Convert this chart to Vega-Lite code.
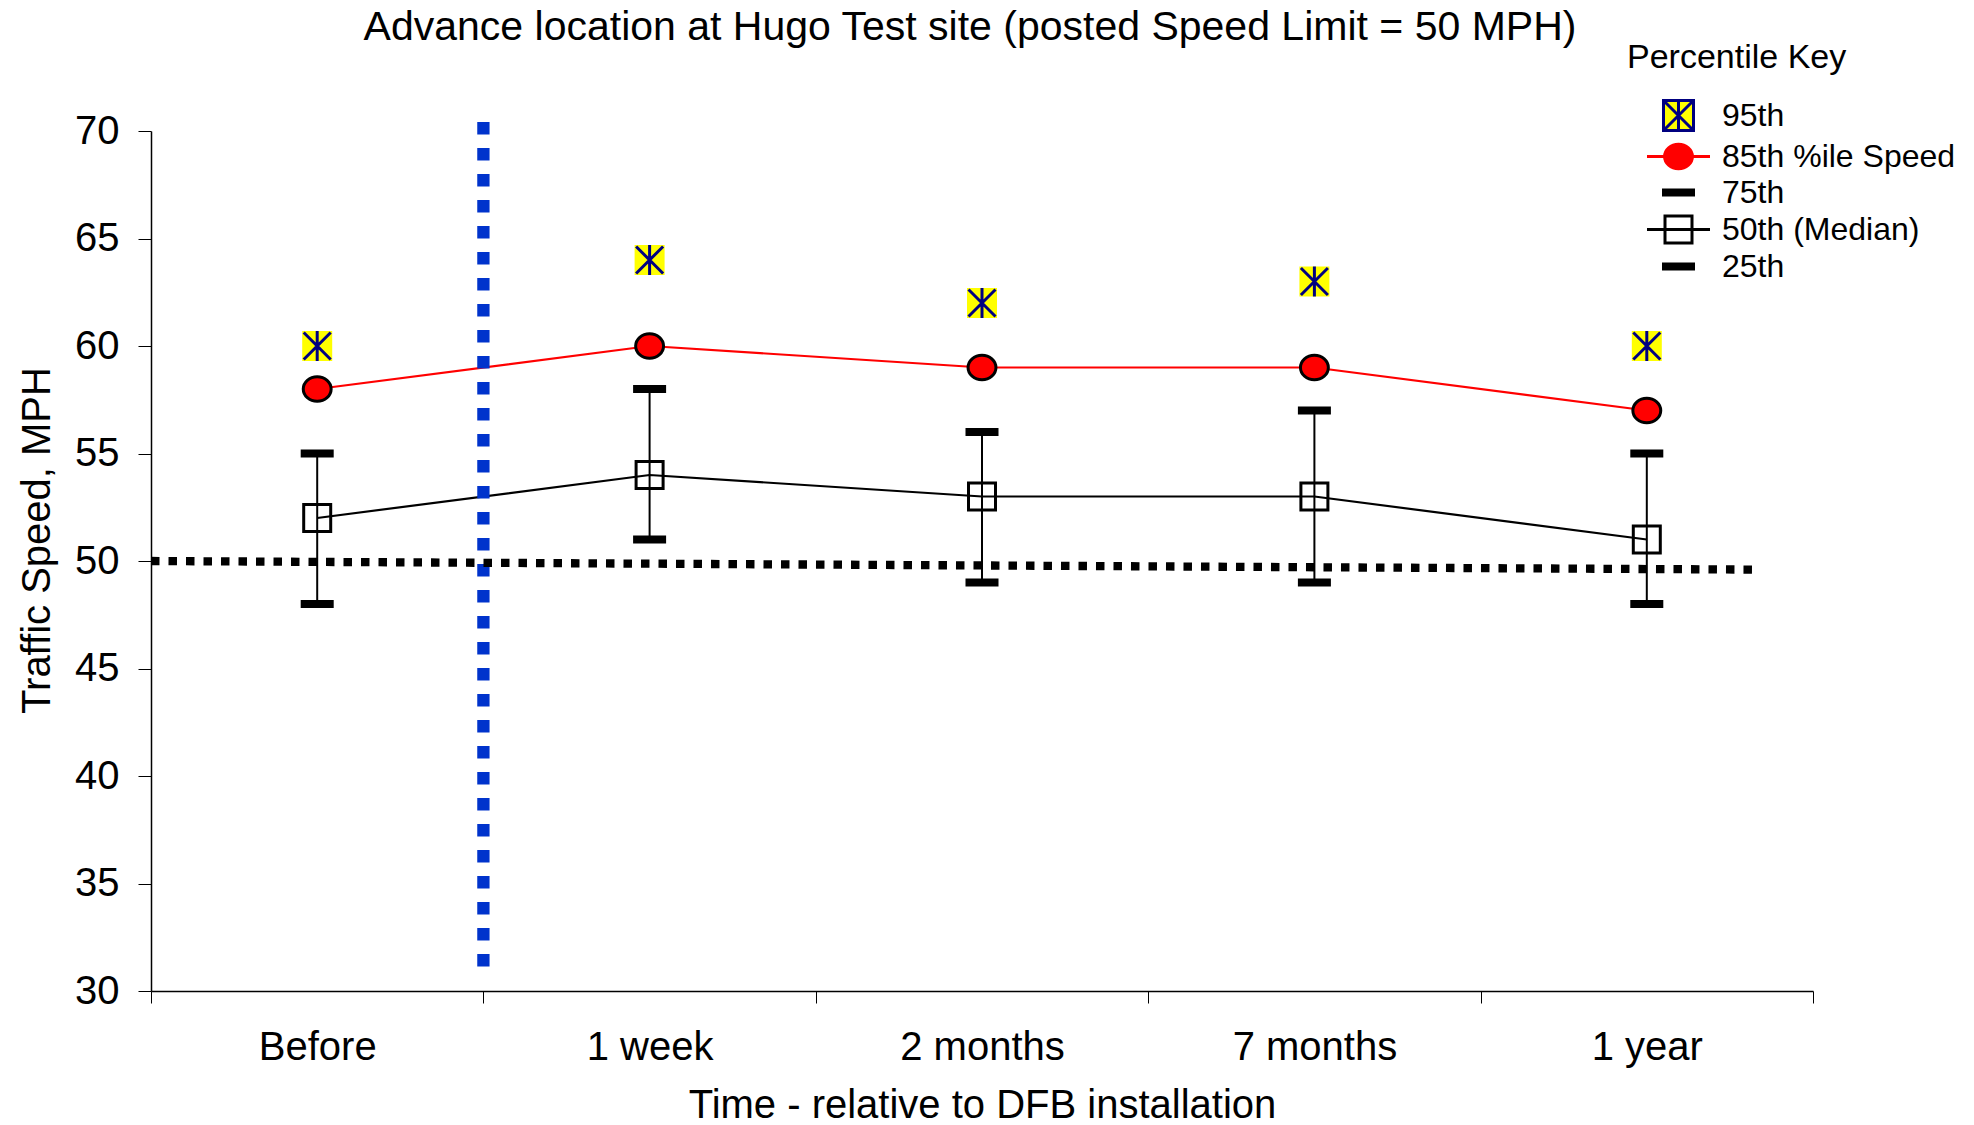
{
  "$schema": "https://vega.github.io/schema/vega-lite/v6.json",
  "width": 1662,
  "height": 860,
  "autosize": {"type": "none"},
  "padding": {"left": 151, "top": 131, "right": 161, "bottom": 134},
  "background": "white",
  "config": {
    "view": {"stroke": null},
    "font": "Liberation Sans",
    "axis": {"labelFont": "Liberation Sans", "titleFont": "Liberation Sans", "labelColor": "black", "titleColor": "black", "domainColor": "black", "tickColor": "black", "titleFontWeight": "normal", "grid": false}
  },
  "title": {
    "text": "Advance location at Hugo Test site (posted Speed Limit = 50 MPH)",
    "fontSize": 41, "fontWeight": "normal", "font": "Liberation Sans", "color": "black",
    "anchor": "middle", "frame": "group", "offset": -8, "dx": -12
  },
  "layer": [
    {
      "data": {"values": [
        {"time": "Before", "95th": 60, "85th %ile Speed": 58, "75th": 55, "50th (Median)": 52, "25th": 48},
        {"time": "1 week", "95th": 64, "85th %ile Speed": 60, "75th": 58, "50th (Median)": 54, "25th": 51},
        {"time": "2 months", "95th": 62, "85th %ile Speed": 59, "75th": 56, "50th (Median)": 53, "25th": 49},
        {"time": "7 months", "95th": 63, "85th %ile Speed": 59, "75th": 57, "50th (Median)": 53, "25th": 49},
        {"time": "1 year", "95th": 60, "85th %ile Speed": 57, "75th": 55, "50th (Median)": 51, "25th": 48}
      ]},
      "encoding": {
        "x": {"field": "time", "type": "nominal", "sort": ["Before", "1 week", "2 months", "7 months", "1 year"],
              "scale": {"type": "band", "paddingInner": 0, "paddingOuter": 0},
              "title": "Time - relative to DFB installation",
              "axis": {"tickBand": "extent", "labelAngle": 0, "labelFontSize": 40, "labelPadding": 24, "tickSize": 12, "tickWidth": 1, "domainWidth": 1.5, "titleFontSize": 40, "titlePadding": 18}}
      },
      "layer": [
        {
          "mark": {"type": "rule", "color": "black", "strokeWidth": 2},
          "encoding": {
            "y": {"field": "25th", "type": "quantitative", "scale": {"domain": [30, 70], "nice": false, "zero": false},
                  "title": "Traffic Speed, MPH",
                  "axis": {"values": [30, 35, 40, 45, 50, 55, 60, 65, 70], "labelFontSize": 40, "labelPadding": 19, "tickSize": 13, "tickWidth": 1, "domainWidth": 1.5, "titleFontSize": 40, "titlePadding": 17, "titleY": 409}},
            "y2": {"field": "75th"}
          }
        },
        {
          "mark": {"type": "line", "color": "#ff0000", "strokeWidth": 2.2},
          "encoding": {
            "y": {"field": "85th %ile Speed", "type": "quantitative", "scale": {"domain": [30, 70], "nice": false, "zero": false}, "title": "Traffic Speed, MPH"}
          }
        },
        {
          "mark": {"type": "line", "color": "black", "strokeWidth": 2.2},
          "encoding": {
            "y": {"field": "50th (Median)", "type": "quantitative", "scale": {"domain": [30, 70], "nice": false, "zero": false}, "title": "Traffic Speed, MPH"}
          }
        },
        {
          "mark": {"type": "point", "shape": "square", "size": 900, "filled": true, "fill": "#ffff00", "opacity": 1, "strokeWidth": 0},
          "encoding": {
            "y": {"field": "95th", "type": "quantitative", "scale": {"domain": [30, 70], "nice": false, "zero": false}, "title": "Traffic Speed, MPH"}
          }
        },
        {
          "mark": {"type": "point", "shape": "M-0.9,-0.9L0.9,0.9M0.9,-0.9L-0.9,0.9M0,-1L0,1", "size": 900, "filled": false, "stroke": "#000080", "strokeWidth": 3, "opacity": 1},
          "encoding": {
            "y": {"field": "95th", "type": "quantitative", "scale": {"domain": [30, 70], "nice": false, "zero": false}, "title": "Traffic Speed, MPH"}
          }
        },
        {
          "mark": {"type": "point", "shape": "M-0.93,0A0.93,0.82 0 1,1 0.93,0A0.93,0.82 0 1,1 -0.93,0Z", "size": 900, "filled": true, "fill": "#ff0000", "stroke": "black", "strokeWidth": 3, "opacity": 1},
          "encoding": {
            "y": {"field": "85th %ile Speed", "type": "quantitative", "scale": {"domain": [30, 70], "nice": false, "zero": false}, "title": "Traffic Speed, MPH"}
          }
        },
        {
          "transform": [{"fold": ["75th", "25th"], "as": ["quartile", "quartileSpeed"]}],
          "mark": {"type": "point", "shape": "M-1,-0.16H1V0.16H-1Z", "size": 900, "filled": true, "fill": "black", "stroke": "black", "strokeWidth": 3, "opacity": 1},
          "encoding": {
            "y": {"field": "quartileSpeed", "type": "quantitative", "scale": {"domain": [30, 70], "nice": false, "zero": false}, "title": "Traffic Speed, MPH"}
          }
        },
        {
          "mark": {"type": "point", "shape": "M-0.9,-0.9H0.9V0.9H-0.9Z", "size": 900, "filled": false, "fill": "transparent", "stroke": "black", "strokeWidth": 3, "opacity": 1},
          "encoding": {
            "y": {"field": "50th (Median)", "type": "quantitative", "scale": {"domain": [30, 70], "nice": false, "zero": false}, "title": "Traffic Speed, MPH"}
          }
        },
        {
          "transform": [{"fold": ["95th", "85th %ile Speed", "75th", "50th (Median)", "25th"], "as": ["pct", "speed"]}],
          "mark": {"type": "point", "size": 900, "strokeWidth": 3, "opacity": 1, "yOffset": 3000, "clip": true},
          "encoding": {
            "y": {"field": "speed", "type": "quantitative", "scale": {"domain": [30, 70], "nice": false, "zero": false}, "title": "Traffic Speed, MPH"},
            "fill": {"field": "pct", "type": "nominal", "title": "Percentile Key",
              "scale": {"domain": ["95th", "85th %ile Speed", "75th", "50th (Median)", "25th"],
                        "range": ["#ffff00", "#ff0000", "black", "transparent", "black"]},
              "legend": {
                "orient": "none", "legendX": 1476, "legendY": -90, "padding": 0,
                "titleFontSize": 34, "titleFontWeight": "normal", "titleColor": "black", "titleFont": "Liberation Sans", "titlePadding": 24, "titleLimit": 500,
                "labelFontSize": 32, "labelColor": "black", "labelFont": "Liberation Sans", "labelLimit": 500,
                "symbolSize": 900, "symbolOffset": 35, "labelOffset": 27, "rowPadding": 1, "symbolStrokeWidth": 3
              }},
            "stroke": {"field": "pct", "type": "nominal", "title": "Percentile Key",
              "scale": {"domain": ["95th", "85th %ile Speed", "75th", "50th (Median)", "25th"],
                        "range": ["#000080", "#ff0000", "black", "black", "black"]}},
            "shape": {"field": "pct", "type": "nominal", "title": "Percentile Key",
              "scale": {"domain": ["95th", "85th %ile Speed", "75th", "50th (Median)", "25th"],
                        "range": ["M-1,-1H1V1H-1Z M-0.9,-0.9L0.9,0.9M0.9,-0.9L-0.9,0.9M0,-1L0,1",
                                  "M-0.93,0A0.93,0.82 0 1,1 0.93,0A0.93,0.82 0 1,1 -0.93,0Z M-2.1,0H-0.93 M0.93,0H2.1",
                                  "M-1,-0.16H1V0.16H-1Z",
                                  "M-0.9,-0.9H0.9V0.9H-0.9Z M-2.1,0H2.1",
                                  "M-1,-0.16H1V0.16H-1Z"]}}
          }
        }
      ]
    },
    {
      "layer": [
        {
          "data": {"values": [{"boundary": 1, "top": 70.42, "bottom": 30.84}]},
          "mark": {"type": "rule", "color": "#0033cc", "strokeWidth": 12.3, "strokeDash": [12.5, 13.5]},
          "encoding": {
            "x": {"field": "boundary", "type": "quantitative", "scale": {"domain": [0, 5], "nice": false, "zero": false}, "axis": null},
            "y": {"field": "top", "type": "quantitative", "scale": {"domain": [30, 70], "nice": false, "zero": false}, "title": "Traffic Speed, MPH"},
            "y2": {"field": "bottom"}
          }
        },
        {
          "data": {"values": [{"boundary": 0, "limit": 50.0}, {"boundary": 4.82, "limit": 49.6}]},
          "mark": {"type": "line", "color": "black", "strokeWidth": 8.3, "strokeDash": [8.5, 9]},
          "encoding": {
            "x": {"field": "boundary", "type": "quantitative", "scale": {"domain": [0, 5], "nice": false, "zero": false}, "axis": null},
            "y": {"field": "limit", "type": "quantitative", "scale": {"domain": [30, 70], "nice": false, "zero": false}, "title": "Traffic Speed, MPH"}
          }
        }
      ]
    }
  ],
  "resolve": {"scale": {"x": "independent"}}
}
